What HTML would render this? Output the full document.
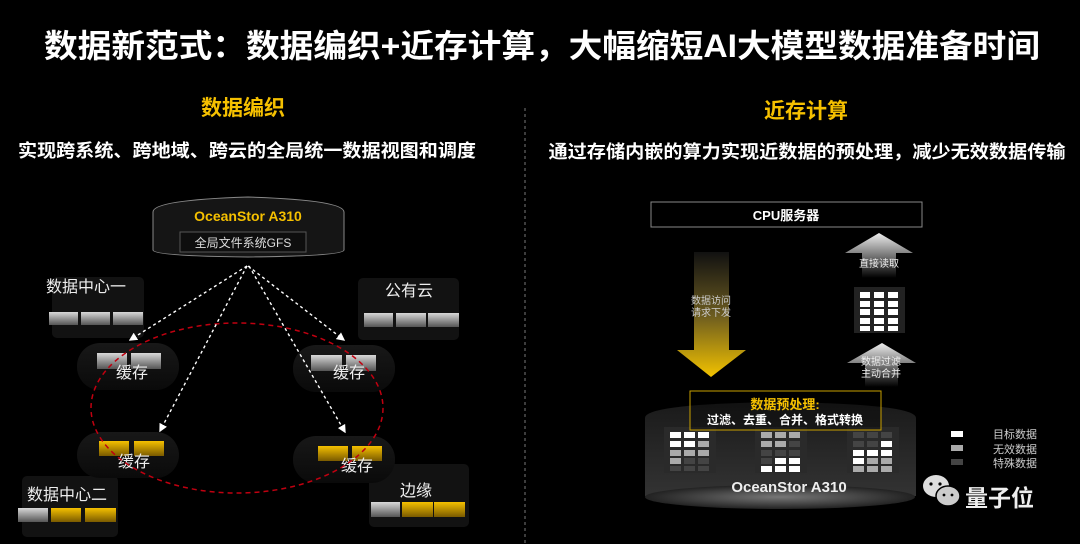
<!DOCTYPE html>
<html><head><meta charset="utf-8"><style>
html,body{margin:0;padding:0;background:#000;}
svg{display:block;}
text{font-family:"Liberation Sans","Noto Sans CJK SC",sans-serif;}
</style></head><body>
<svg width="1080" height="544" viewBox="0 0 1080 544" xmlns="http://www.w3.org/2000/svg">
<defs>
<linearGradient id="gb" x1="0" y1="0" x2="0" y2="1"><stop offset="0" stop-color="#d8d8d8"/><stop offset="1" stop-color="#555"/></linearGradient>
<linearGradient id="yb" x1="0" y1="0" x2="0" y2="1"><stop offset="0" stop-color="#f5c000"/><stop offset="1" stop-color="#7a5a00"/></linearGradient>
<linearGradient id="pill" x1="0" y1="0" x2="0" y2="1"><stop offset="0" stop-color="#181818"/><stop offset="1" stop-color="#0a0a0a"/></linearGradient>
<linearGradient id="down" x1="0" y1="0" x2="0" y2="1"><stop offset="0" stop-color="#111"/><stop offset="0.5" stop-color="#6a5a20"/><stop offset="1" stop-color="#f2c200"/></linearGradient>
<linearGradient id="up" x1="0" y1="0" x2="0" y2="1"><stop offset="0" stop-color="#eee"/><stop offset="0.5" stop-color="#777"/><stop offset="1" stop-color="#000"/></linearGradient>
<linearGradient id="cyl" x1="0" y1="0" x2="0" y2="1"><stop offset="0" stop-color="#1a1a1a"/><stop offset="1" stop-color="#333"/></linearGradient>
<radialGradient id="cylb" cx="0.5" cy="0.5" r="0.5"><stop offset="0" stop-color="#777"/><stop offset="1" stop-color="#222"/></radialGradient>
<marker id="ah" markerWidth="6" markerHeight="6" refX="5" refY="3" orient="auto"><path d="M0,0 L6,3 L0,6 z" fill="#fff"/></marker>
</defs>

<text x="542" y="57" fill="#fff" font-size="32" font-weight="bold" text-anchor="middle" textLength="996" lengthAdjust="spacingAndGlyphs">数据新范式：数据编织+近存计算，大幅缩短AI大模型数据准备时间</text>
<text x="243" y="115" fill="#f5c000" font-size="21" font-weight="bold" text-anchor="middle">数据编织</text>
<text x="806" y="118" fill="#f5c000" font-size="21" font-weight="bold" text-anchor="middle">近存计算</text>
<text x="247" y="157" fill="#fff" font-size="18" font-weight="bold" text-anchor="middle" textLength="458" lengthAdjust="spacingAndGlyphs">实现跨系统、跨地域、跨云的全局统一数据视图和调度</text>
<text x="807" y="158" fill="#fff" font-size="18" font-weight="bold" text-anchor="middle" textLength="517" lengthAdjust="spacingAndGlyphs">通过存储内嵌的算力实现近数据的预处理，减少无效数据传输</text>
<line x1="525" y1="108" x2="525" y2="544" stroke="#777" stroke-dasharray="3,3"/>

<path d="M153,212 Q153,200 248,197 Q344,200 344,212 L344,250 Q344,256 248,257 Q153,256 153,250 Z" fill="#151515" stroke="#888" stroke-width="1"/>
<text x="248" y="221" fill="#f5c000" font-size="14" font-weight="bold" text-anchor="middle">OceanStor A310</text>
<rect x="180" y="232" width="126" height="20" fill="#0e0e0e" stroke="#555"/>
<text x="243" y="247" fill="#ddd" font-size="12" text-anchor="middle">全局文件系统GFS</text>

<rect x="52" y="277" width="92" height="61" rx="5" fill="#121212"/>
<text x="86" y="292" fill="#eee" font-size="16" text-anchor="middle">数据中心一</text>
<rect x="49" y="312" width="29" height="13" fill="url(#gb)"/><rect x="81" y="312" width="29" height="13" fill="url(#gb)"/><rect x="113" y="312" width="30" height="13" fill="url(#gb)"/>

<rect x="358" y="278" width="101" height="62" rx="5" fill="#121212"/>
<text x="409" y="296" fill="#eee" font-size="16" text-anchor="middle">公有云</text>
<rect x="364" y="313" width="29" height="14" fill="url(#gb)"/><rect x="396" y="313" width="30" height="14" fill="url(#gb)"/><rect x="428" y="313" width="31" height="14" fill="url(#gb)"/>

<rect x="22" y="476" width="96" height="61" rx="5" fill="#121212"/>
<text x="67" y="500" fill="#eee" font-size="16" text-anchor="middle">数据中心二</text>
<rect x="18" y="508" width="30" height="14" fill="url(#gb)"/><rect x="51" y="508" width="30" height="14" fill="url(#yb)"/><rect x="85" y="508" width="31" height="14" fill="url(#yb)"/>

<rect x="369" y="464" width="100" height="63" rx="5" fill="#121212"/>
<text x="416" y="496" fill="#eee" font-size="16" text-anchor="middle">边缘</text>
<rect x="371" y="502" width="29" height="15" fill="url(#gb)"/><rect x="402" y="502" width="31" height="15" fill="url(#yb)"/><rect x="434" y="502" width="31" height="15" fill="url(#yb)"/>

<rect x="77" y="343" width="102" height="47" rx="23" fill="url(#pill)"/>
<rect x="97" y="353" width="30" height="16" fill="url(#gb)"/><rect x="131" y="353" width="30" height="16" fill="url(#gb)"/>
<text x="132" y="378" fill="#eee" font-size="16" text-anchor="middle">缓存</text>

<rect x="293" y="345" width="102" height="47" rx="23" fill="url(#pill)"/>
<rect x="311" y="355" width="31" height="16" fill="url(#gb)"/><rect x="346" y="355" width="30" height="16" fill="url(#gb)"/>
<text x="349" y="378" fill="#eee" font-size="16" text-anchor="middle">缓存</text>

<rect x="77" y="432" width="102" height="46" rx="23" fill="url(#pill)"/>
<rect x="99" y="441" width="30" height="15" fill="url(#yb)"/><rect x="134" y="441" width="30" height="15" fill="url(#yb)"/>
<text x="134" y="467" fill="#eee" font-size="16" text-anchor="middle">缓存</text>

<rect x="293" y="436" width="102" height="47" rx="23" fill="url(#pill)"/>
<rect x="318" y="446" width="30" height="15" fill="url(#yb)"/><rect x="352" y="446" width="30" height="15" fill="url(#yb)"/>
<text x="357" y="471" fill="#eee" font-size="16" text-anchor="middle">缓存</text>

<ellipse cx="237" cy="408" rx="146" ry="85" fill="none" stroke="#c00010" stroke-width="1.5" stroke-dasharray="5,4"/>

<g stroke="#fff" stroke-width="1.4" stroke-dasharray="3,3" fill="none" marker-end="url(#ah)">
<line x1="247" y1="266" x2="130" y2="340"/>
<line x1="247" y1="266" x2="160" y2="431"/>
<line x1="248" y1="266" x2="344" y2="340"/>
<line x1="249" y1="266" x2="345" y2="432"/>
</g>

<rect x="651" y="202" width="271" height="25" fill="#000" stroke="#888"/>
<text x="786" y="220" fill="#fff" font-size="13" font-weight="bold" text-anchor="middle">CPU服务器</text>

<path d="M694,252 L729,252 L729,350 L746,350 L711,377 L677,350 L694,350 Z" fill="url(#down)"/>
<text x="711" y="304" fill="#ccc" font-size="10" text-anchor="middle">数据访问</text>
<text x="711" y="316" fill="#ccc" font-size="10" text-anchor="middle">请求下发</text>

<path d="M879,233 L913,253 L896,253 L896,278 L862,278 L862,253 L845,253 Z" fill="url(#up)"/>
<text x="879" y="267" fill="#eee" font-size="10" text-anchor="middle">直接读取</text>

<rect x="854" y="287" width="51" height="46" fill="#222"/>
<g fill="#fff">
<rect x="860" y="292" width="10" height="6"/><rect x="874" y="292" width="10" height="6"/><rect x="888" y="292" width="10" height="6"/>
<rect x="860" y="301" width="10" height="6"/><rect x="874" y="301" width="10" height="6"/><rect x="888" y="301" width="10" height="6"/>
<rect x="860" y="309" width="10" height="6"/><rect x="874" y="309" width="10" height="6"/><rect x="888" y="309" width="10" height="6"/>
<rect x="860" y="318" width="10" height="6"/><rect x="874" y="318" width="10" height="6"/><rect x="888" y="318" width="10" height="6"/>
<rect x="860" y="326" width="10" height="5"/><rect x="874" y="326" width="10" height="5"/><rect x="888" y="326" width="10" height="5"/>
</g>

<path d="M882,343 L916,363 L898,363 L898,387 L865,387 L865,363 L847,363 Z" fill="url(#up)"/>
<text x="881" y="365" fill="#eee" font-size="10" text-anchor="middle">数据过滤</text>
<text x="881" y="377" fill="#eee" font-size="10" text-anchor="middle">主动合并</text>

<path d="M645,418 Q645,404 780,402 Q916,404 916,418 L916,496 L645,496 Z" fill="url(#cyl)"/>
<ellipse cx="780" cy="497" rx="135" ry="12" fill="url(#cylb)"/>

<g>
<rect x="664" y="427" width="52" height="46" fill="#2a2a2a"/>
<rect x="755" y="427" width="52" height="46" fill="#2a2a2a"/>
<rect x="847" y="427" width="52" height="46" fill="#2a2a2a"/>
<rect x="670" y="432" width="11" height="6" fill="#fff"/><rect x="684" y="432" width="11" height="6" fill="#fff"/><rect x="698" y="432" width="11" height="6" fill="#fff"/>
<rect x="670" y="441" width="11" height="6" fill="#fff"/><rect x="684" y="441" width="11" height="6" fill="#fff"/><rect x="698" y="441" width="11" height="6" fill="#aaa"/>
<rect x="670" y="450" width="11" height="6" fill="#aaa"/><rect x="684" y="450" width="11" height="6" fill="#aaa"/><rect x="698" y="450" width="11" height="6" fill="#aaa"/>
<rect x="670" y="458" width="11" height="6" fill="#aaa"/><rect x="684" y="458" width="11" height="6" fill="#444"/><rect x="698" y="458" width="11" height="6" fill="#444"/>
<rect x="670" y="466" width="11" height="5" fill="#444"/><rect x="684" y="466" width="11" height="5" fill="#444"/><rect x="698" y="466" width="11" height="5" fill="#444"/>
<rect x="761" y="432" width="11" height="6" fill="#aaa"/><rect x="775" y="432" width="11" height="6" fill="#aaa"/><rect x="789" y="432" width="11" height="6" fill="#aaa"/>
<rect x="761" y="441" width="11" height="6" fill="#aaa"/><rect x="775" y="441" width="11" height="6" fill="#aaa"/><rect x="789" y="441" width="11" height="6" fill="#444"/>
<rect x="761" y="450" width="11" height="6" fill="#444"/><rect x="775" y="450" width="11" height="6" fill="#444"/><rect x="789" y="450" width="11" height="6" fill="#444"/>
<rect x="761" y="458" width="11" height="6" fill="#444"/><rect x="775" y="458" width="11" height="6" fill="#fff"/><rect x="789" y="458" width="11" height="6" fill="#fff"/>
<rect x="761" y="466" width="11" height="6" fill="#fff"/><rect x="775" y="466" width="11" height="6" fill="#fff"/><rect x="789" y="466" width="11" height="6" fill="#fff"/>
<rect x="853" y="432" width="11" height="6" fill="#444"/><rect x="867" y="432" width="11" height="6" fill="#444"/><rect x="881" y="432" width="11" height="6" fill="#444"/>
<rect x="853" y="441" width="11" height="6" fill="#444"/><rect x="867" y="441" width="11" height="6" fill="#444"/><rect x="881" y="441" width="11" height="6" fill="#fff"/>
<rect x="853" y="450" width="11" height="6" fill="#fff"/><rect x="867" y="450" width="11" height="6" fill="#fff"/><rect x="881" y="450" width="11" height="6" fill="#fff"/>
<rect x="853" y="458" width="11" height="6" fill="#fff"/><rect x="867" y="458" width="11" height="6" fill="#aaa"/><rect x="881" y="458" width="11" height="6" fill="#aaa"/>
<rect x="853" y="466" width="11" height="6" fill="#aaa"/><rect x="867" y="466" width="11" height="6" fill="#aaa"/><rect x="881" y="466" width="11" height="6" fill="#aaa"/>
</g>
<text x="789" y="492" fill="#eee" font-size="15" font-weight="bold" text-anchor="middle">OceanStor A310</text>

<rect x="690" y="391" width="191" height="39" fill="rgba(0,0,0,0.3)" stroke="#c9a000" stroke-width="1"/>
<text x="785" y="409" fill="#f5c000" font-size="13" font-weight="bold" text-anchor="middle">数据预处理:</text>
<text x="785" y="424" fill="#fff" font-size="12" font-weight="bold" text-anchor="middle">过滤、去重、合并、格式转换</text>

<rect x="951" y="431" width="12" height="6" fill="#fff"/>
<rect x="951" y="445" width="12" height="6" fill="#aaa"/>
<rect x="951" y="459" width="12" height="6" fill="#444"/>
<text x="993" y="438" fill="#ccc" font-size="11">目标数据</text>
<text x="993" y="453" fill="#ccc" font-size="11">无效数据</text>
<text x="993" y="467" fill="#ccc" font-size="11">特殊数据</text>

<ellipse cx="936" cy="486" rx="13" ry="11" fill="#ddd"/>
<ellipse cx="948" cy="496" rx="12" ry="10" fill="#ccc" stroke="#000" stroke-width="1.5"/>
<circle cx="931" cy="484" r="1.6" fill="#000"/><circle cx="940" cy="484" r="1.6" fill="#000"/>
<circle cx="944" cy="495" r="1.4" fill="#000"/><circle cx="952" cy="495" r="1.4" fill="#000"/>
<text x="965" y="506" fill="#eee" font-size="23" font-weight="bold">量子位</text>
</svg>
</body></html>
